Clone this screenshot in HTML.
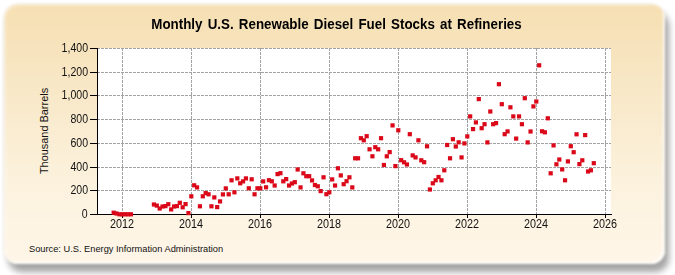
<!DOCTYPE html>
<html><head><meta charset="utf-8"><style>
html,body{margin:0;padding:0;background:#fff;}
body{width:675px;height:275px;position:relative;overflow:hidden;font-family:"Liberation Sans",sans-serif;}
.frame{position:absolute;left:3.5px;top:3.5px;width:661.5px;height:260.5px;border-radius:14px;
background:linear-gradient(to bottom,#f6dfb2 0%,#f9eacc 40%,#fcf2de 70%,#fff6e9 100%);
box-shadow:4px 8px 6px rgba(0,0,0,0.36),inset -2px -2px 0 rgba(255,255,255,0.85),inset 2px 2px 1px rgba(255,255,255,0.35),0 0 0 0.5px rgba(150,140,120,0.25);filter:blur(0.8px);}
.title{position:absolute;left:1px;width:671px;top:16.8px;text-align:center;font-weight:bold;font-size:13.75px;word-spacing:1.5px;transform:scaleX(0.972);color:#000;white-space:nowrap;}
.yl{position:absolute;right:587px;font-size:12px;color:#111;white-space:nowrap;line-height:15px;transform:scaleX(0.88);transform-origin:100% 50%;}
.xl{position:absolute;width:40px;text-align:center;top:217px;font-size:12px;color:#111;line-height:15px;transform:scaleX(0.9);}
.ytitle{position:absolute;left:43.5px;top:131px;transform:translate(-50%,-50%) rotate(-90deg) scaleX(0.95);font-size:11.5px;white-space:nowrap;color:#111;}
.src{position:absolute;left:29px;top:244px;font-size:9.28px;color:#111;white-space:nowrap;}
svg{position:absolute;left:0;top:0;}
</style></head><body>
<div class="frame"></div>
<svg width="675" height="275" viewBox="0 0 675 275">
<rect x="97" y="48" width="514" height="166" fill="#fff"/>
<g stroke="#a2a2a2" stroke-width="1" stroke-dasharray="3 1" fill="none"><line x1="97" y1="48.50" x2="611" y2="48.50"/><line x1="97" y1="72.50" x2="611" y2="72.50"/><line x1="97" y1="95.50" x2="611" y2="95.50"/><line x1="97" y1="119.50" x2="611" y2="119.50"/><line x1="97" y1="143.50" x2="611" y2="143.50"/><line x1="97" y1="167.50" x2="611" y2="167.50"/><line x1="97" y1="190.50" x2="611" y2="190.50"/><line x1="122.5" y1="48" x2="122.5" y2="214"/><line x1="191.5" y1="48" x2="191.5" y2="214"/><line x1="260.5" y1="48" x2="260.5" y2="214"/><line x1="329.5" y1="48" x2="329.5" y2="214"/><line x1="398.5" y1="48" x2="398.5" y2="214"/><line x1="467.5" y1="48" x2="467.5" y2="214"/><line x1="536.5" y1="48" x2="536.5" y2="214"/><line x1="605.5" y1="48" x2="605.5" y2="214"/></g>
<g stroke="#000" stroke-width="1"><line x1="90" y1="48.50" x2="97" y2="48.50"/><line x1="90" y1="72.50" x2="97" y2="72.50"/><line x1="90" y1="95.50" x2="97" y2="95.50"/><line x1="90" y1="119.50" x2="97" y2="119.50"/><line x1="90" y1="143.50" x2="97" y2="143.50"/><line x1="90" y1="167.50" x2="97" y2="167.50"/><line x1="90" y1="190.50" x2="97" y2="190.50"/><line x1="90" y1="214.50" x2="97" y2="214.50"/><line x1="122.5" y1="214" x2="122.5" y2="218"/><line x1="191.5" y1="214" x2="191.5" y2="218"/><line x1="260.5" y1="214" x2="260.5" y2="218"/><line x1="329.5" y1="214" x2="329.5" y2="218"/><line x1="398.5" y1="214" x2="398.5" y2="218"/><line x1="467.5" y1="214" x2="467.5" y2="218"/><line x1="536.5" y1="214" x2="536.5" y2="218"/><line x1="605.5" y1="214" x2="605.5" y2="218"/>
<line x1="97.5" y1="48" x2="97.5" y2="215"/>
<line x1="90" y1="214.5" x2="612" y2="214.5"/></g>
<g fill="#da0818"><rect x="111.58" y="210.60" width="4.2" height="4.2"/>
<rect x="114.45" y="211.40" width="4.2" height="4.2"/>
<rect x="117.33" y="212.20" width="4.2" height="4.2"/>
<rect x="120.20" y="212.20" width="4.2" height="4.2"/>
<rect x="123.08" y="212.20" width="4.2" height="4.2"/>
<rect x="125.95" y="212.20" width="4.2" height="4.2"/>
<rect x="128.83" y="212.20" width="4.2" height="4.2"/>
<rect x="151.83" y="202.40" width="4.2" height="4.2"/>
<rect x="154.70" y="203.50" width="4.2" height="4.2"/>
<rect x="157.58" y="206.40" width="4.2" height="4.2"/>
<rect x="160.45" y="204.40" width="4.2" height="4.2"/>
<rect x="163.33" y="204.00" width="4.2" height="4.2"/>
<rect x="166.20" y="202.10" width="4.2" height="4.2"/>
<rect x="169.08" y="207.30" width="4.2" height="4.2"/>
<rect x="171.95" y="204.40" width="4.2" height="4.2"/>
<rect x="174.83" y="204.00" width="4.2" height="4.2"/>
<rect x="177.70" y="200.70" width="4.2" height="4.2"/>
<rect x="180.58" y="205.20" width="4.2" height="4.2"/>
<rect x="183.45" y="202.00" width="4.2" height="4.2"/>
<rect x="186.33" y="211.00" width="4.2" height="4.2"/>
<rect x="189.20" y="194.20" width="4.2" height="4.2"/>
<rect x="192.08" y="183.20" width="4.2" height="4.2"/>
<rect x="194.95" y="185.30" width="4.2" height="4.2"/>
<rect x="197.83" y="204.20" width="4.2" height="4.2"/>
<rect x="200.70" y="194.20" width="4.2" height="4.2"/>
<rect x="203.58" y="191.00" width="4.2" height="4.2"/>
<rect x="206.45" y="192.20" width="4.2" height="4.2"/>
<rect x="209.33" y="204.20" width="4.2" height="4.2"/>
<rect x="212.20" y="195.30" width="4.2" height="4.2"/>
<rect x="215.08" y="205.00" width="4.2" height="4.2"/>
<rect x="217.95" y="199.30" width="4.2" height="4.2"/>
<rect x="220.83" y="192.30" width="4.2" height="4.2"/>
<rect x="223.70" y="186.30" width="4.2" height="4.2"/>
<rect x="226.58" y="192.20" width="4.2" height="4.2"/>
<rect x="229.45" y="178.20" width="4.2" height="4.2"/>
<rect x="232.33" y="190.20" width="4.2" height="4.2"/>
<rect x="235.20" y="176.30" width="4.2" height="4.2"/>
<rect x="238.08" y="181.20" width="4.2" height="4.2"/>
<rect x="240.95" y="179.30" width="4.2" height="4.2"/>
<rect x="243.83" y="176.30" width="4.2" height="4.2"/>
<rect x="246.70" y="186.20" width="4.2" height="4.2"/>
<rect x="249.58" y="177.20" width="4.2" height="4.2"/>
<rect x="252.45" y="192.20" width="4.2" height="4.2"/>
<rect x="255.33" y="186.20" width="4.2" height="4.2"/>
<rect x="258.20" y="186.20" width="4.2" height="4.2"/>
<rect x="261.07" y="179.30" width="4.2" height="4.2"/>
<rect x="263.95" y="185.20" width="4.2" height="4.2"/>
<rect x="266.82" y="178.10" width="4.2" height="4.2"/>
<rect x="269.70" y="179.20" width="4.2" height="4.2"/>
<rect x="272.57" y="183.40" width="4.2" height="4.2"/>
<rect x="275.45" y="172.00" width="4.2" height="4.2"/>
<rect x="278.32" y="171.10" width="4.2" height="4.2"/>
<rect x="281.20" y="179.20" width="4.2" height="4.2"/>
<rect x="284.07" y="177.00" width="4.2" height="4.2"/>
<rect x="286.95" y="183.40" width="4.2" height="4.2"/>
<rect x="289.82" y="181.40" width="4.2" height="4.2"/>
<rect x="292.70" y="180.10" width="4.2" height="4.2"/>
<rect x="295.57" y="167.40" width="4.2" height="4.2"/>
<rect x="298.45" y="185.30" width="4.2" height="4.2"/>
<rect x="301.32" y="171.20" width="4.2" height="4.2"/>
<rect x="304.20" y="174.10" width="4.2" height="4.2"/>
<rect x="307.07" y="174.10" width="4.2" height="4.2"/>
<rect x="309.95" y="178.30" width="4.2" height="4.2"/>
<rect x="312.82" y="182.90" width="4.2" height="4.2"/>
<rect x="315.70" y="184.20" width="4.2" height="4.2"/>
<rect x="318.57" y="189.00" width="4.2" height="4.2"/>
<rect x="321.45" y="175.20" width="4.2" height="4.2"/>
<rect x="324.32" y="192.10" width="4.2" height="4.2"/>
<rect x="327.20" y="190.20" width="4.2" height="4.2"/>
<rect x="330.07" y="177.30" width="4.2" height="4.2"/>
<rect x="332.95" y="183.40" width="4.2" height="4.2"/>
<rect x="335.82" y="166.20" width="4.2" height="4.2"/>
<rect x="338.70" y="173.30" width="4.2" height="4.2"/>
<rect x="341.57" y="182.10" width="4.2" height="4.2"/>
<rect x="344.45" y="179.10" width="4.2" height="4.2"/>
<rect x="347.32" y="175.20" width="4.2" height="4.2"/>
<rect x="350.20" y="185.30" width="4.2" height="4.2"/>
<rect x="353.07" y="156.20" width="4.2" height="4.2"/>
<rect x="355.95" y="156.20" width="4.2" height="4.2"/>
<rect x="358.82" y="136.10" width="4.2" height="4.2"/>
<rect x="361.70" y="138.20" width="4.2" height="4.2"/>
<rect x="364.57" y="134.10" width="4.2" height="4.2"/>
<rect x="367.45" y="147.20" width="4.2" height="4.2"/>
<rect x="370.32" y="154.20" width="4.2" height="4.2"/>
<rect x="373.20" y="145.10" width="4.2" height="4.2"/>
<rect x="376.07" y="147.20" width="4.2" height="4.2"/>
<rect x="378.95" y="136.10" width="4.2" height="4.2"/>
<rect x="381.82" y="162.90" width="4.2" height="4.2"/>
<rect x="384.70" y="154.20" width="4.2" height="4.2"/>
<rect x="387.57" y="150.00" width="4.2" height="4.2"/>
<rect x="390.45" y="123.30" width="4.2" height="4.2"/>
<rect x="393.32" y="164.00" width="4.2" height="4.2"/>
<rect x="396.20" y="128.20" width="4.2" height="4.2"/>
<rect x="399.07" y="158.10" width="4.2" height="4.2"/>
<rect x="401.95" y="160.20" width="4.2" height="4.2"/>
<rect x="404.82" y="162.40" width="4.2" height="4.2"/>
<rect x="407.70" y="132.10" width="4.2" height="4.2"/>
<rect x="410.57" y="153.30" width="4.2" height="4.2"/>
<rect x="413.45" y="155.30" width="4.2" height="4.2"/>
<rect x="416.32" y="138.20" width="4.2" height="4.2"/>
<rect x="419.20" y="158.20" width="4.2" height="4.2"/>
<rect x="422.07" y="160.10" width="4.2" height="4.2"/>
<rect x="424.95" y="144.20" width="4.2" height="4.2"/>
<rect x="427.82" y="187.40" width="4.2" height="4.2"/>
<rect x="430.70" y="181.20" width="4.2" height="4.2"/>
<rect x="433.57" y="178.20" width="4.2" height="4.2"/>
<rect x="436.45" y="174.90" width="4.2" height="4.2"/>
<rect x="439.32" y="178.20" width="4.2" height="4.2"/>
<rect x="442.20" y="168.20" width="4.2" height="4.2"/>
<rect x="445.07" y="142.90" width="4.2" height="4.2"/>
<rect x="447.95" y="156.20" width="4.2" height="4.2"/>
<rect x="450.82" y="137.10" width="4.2" height="4.2"/>
<rect x="453.70" y="144.40" width="4.2" height="4.2"/>
<rect x="456.57" y="140.20" width="4.2" height="4.2"/>
<rect x="459.45" y="155.30" width="4.2" height="4.2"/>
<rect x="462.32" y="141.30" width="4.2" height="4.2"/>
<rect x="465.20" y="134.30" width="4.2" height="4.2"/>
<rect x="468.07" y="114.30" width="4.2" height="4.2"/>
<rect x="470.95" y="127.00" width="4.2" height="4.2"/>
<rect x="473.82" y="120.30" width="4.2" height="4.2"/>
<rect x="476.70" y="97.00" width="4.2" height="4.2"/>
<rect x="479.57" y="126.10" width="4.2" height="4.2"/>
<rect x="482.45" y="122.10" width="4.2" height="4.2"/>
<rect x="485.32" y="140.30" width="4.2" height="4.2"/>
<rect x="488.20" y="109.40" width="4.2" height="4.2"/>
<rect x="491.07" y="122.10" width="4.2" height="4.2"/>
<rect x="493.95" y="121.00" width="4.2" height="4.2"/>
<rect x="496.82" y="82.10" width="4.2" height="4.2"/>
<rect x="499.70" y="102.10" width="4.2" height="4.2"/>
<rect x="502.57" y="132.10" width="4.2" height="4.2"/>
<rect x="505.45" y="129.30" width="4.2" height="4.2"/>
<rect x="508.32" y="105.20" width="4.2" height="4.2"/>
<rect x="511.20" y="114.30" width="4.2" height="4.2"/>
<rect x="514.07" y="136.50" width="4.2" height="4.2"/>
<rect x="516.95" y="114.30" width="4.2" height="4.2"/>
<rect x="519.82" y="122.10" width="4.2" height="4.2"/>
<rect x="522.70" y="96.10" width="4.2" height="4.2"/>
<rect x="525.57" y="140.30" width="4.2" height="4.2"/>
<rect x="528.45" y="129.40" width="4.2" height="4.2"/>
<rect x="531.32" y="104.30" width="4.2" height="4.2"/>
<rect x="534.20" y="99.40" width="4.2" height="4.2"/>
<rect x="537.07" y="63.20" width="4.2" height="4.2"/>
<rect x="539.95" y="129.20" width="4.2" height="4.2"/>
<rect x="542.82" y="130.20" width="4.2" height="4.2"/>
<rect x="545.70" y="116.20" width="4.2" height="4.2"/>
<rect x="548.57" y="171.20" width="4.2" height="4.2"/>
<rect x="551.45" y="143.30" width="4.2" height="4.2"/>
<rect x="554.32" y="162.20" width="4.2" height="4.2"/>
<rect x="557.20" y="157.40" width="4.2" height="4.2"/>
<rect x="560.07" y="167.30" width="4.2" height="4.2"/>
<rect x="562.95" y="178.20" width="4.2" height="4.2"/>
<rect x="565.82" y="159.30" width="4.2" height="4.2"/>
<rect x="568.70" y="144.10" width="4.2" height="4.2"/>
<rect x="571.57" y="150.10" width="4.2" height="4.2"/>
<rect x="574.45" y="132.20" width="4.2" height="4.2"/>
<rect x="577.32" y="162.00" width="4.2" height="4.2"/>
<rect x="580.20" y="158.20" width="4.2" height="4.2"/>
<rect x="583.07" y="133.00" width="4.2" height="4.2"/>
<rect x="585.95" y="169.40" width="4.2" height="4.2"/>
<rect x="588.82" y="168.20" width="4.2" height="4.2"/>
<rect x="591.70" y="161.10" width="4.2" height="4.2"/></g>
</svg>
<div class="title">Monthly U.S. Renewable Diesel Fuel Stocks at Refineries</div>
<div class="yl" style="top:40.50px">1,400</div><div class="yl" style="top:64.50px">1,200</div><div class="yl" style="top:87.50px">1,000</div><div class="yl" style="top:111.50px">800</div><div class="yl" style="top:135.50px">600</div><div class="yl" style="top:159.50px">400</div><div class="yl" style="top:182.50px">200</div><div class="yl" style="top:206.50px">0</div>
<div class="xl" style="left:102px">2012</div><div class="xl" style="left:171px">2014</div><div class="xl" style="left:240px">2016</div><div class="xl" style="left:309px">2018</div><div class="xl" style="left:378px">2020</div><div class="xl" style="left:447px">2022</div><div class="xl" style="left:516px">2024</div><div class="xl" style="left:585px">2026</div>
<div class="ytitle">Thousand Barrels</div>
<div class="src">Source: U.S. Energy Information Administration</div>
</body></html>
